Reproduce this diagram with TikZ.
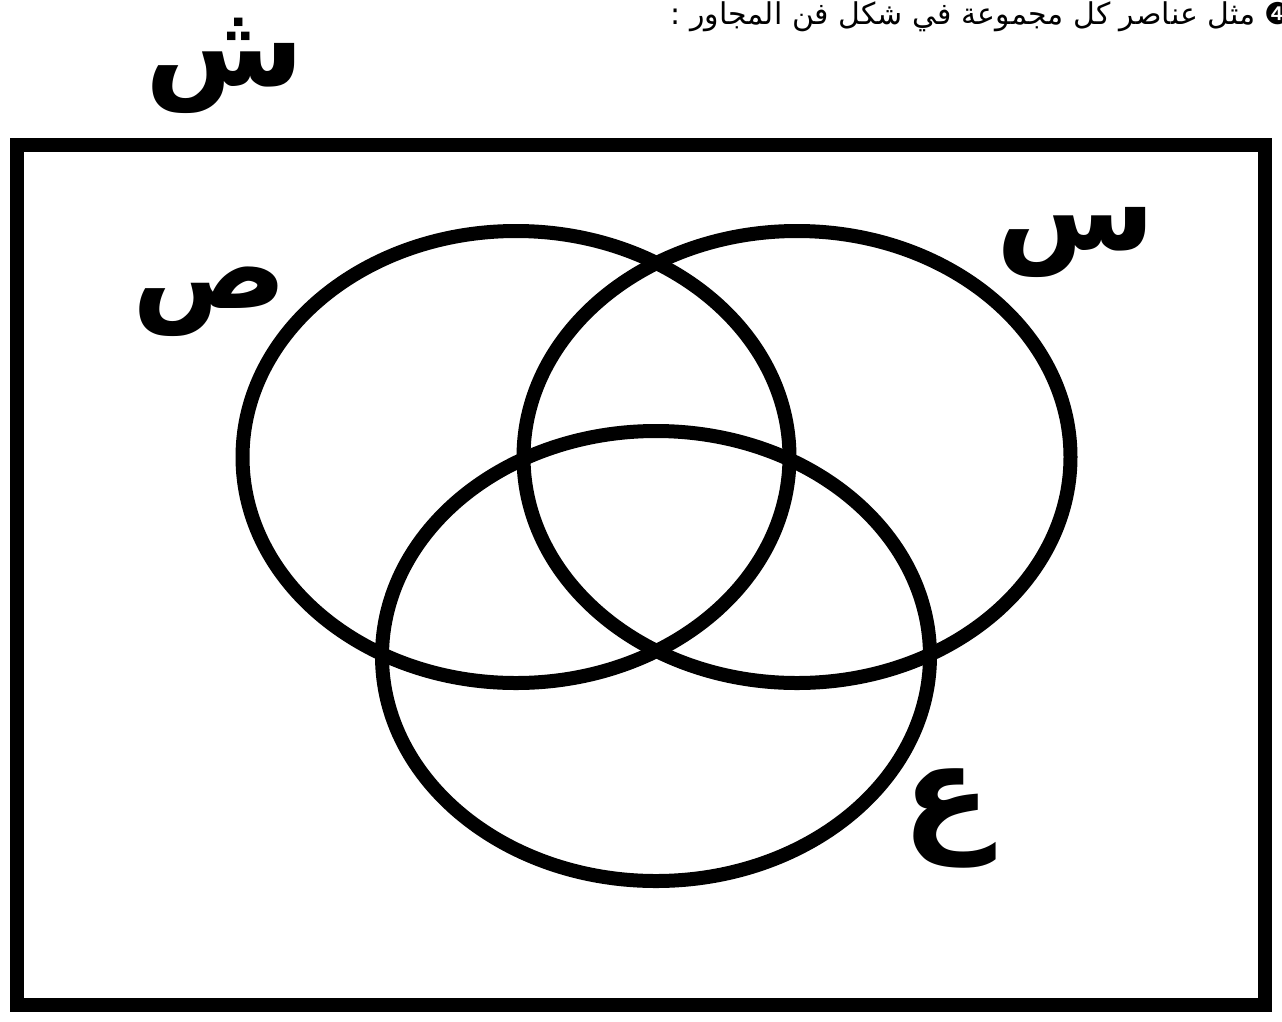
\documentclass[tikz,border=0pt]{standalone}
\usepackage{fontspec}
\newfontfamily\arabicfont[Script=Arabic]{DejaVu Sans}
\TeXXeTstate=1
\begin{document}
\begin{tikzpicture}[x=1pt,y=-1pt,
  setline/.style={line width=14pt},
  setlabel/.style={font=\arabicfont\bfseries\fontsize{115}{125}\selectfont, inner sep=0pt}]
\useasboundingbox (0,0) rectangle (1282,1021);
\fill[white] (0,0) rectangle (1282,1021);
\node[anchor=base east, inner sep=0pt, font=\arabicfont\fontsize{30}{36}\selectfont] (title) at (1292,24) {\beginR ❹ مثل عناصر كل مجموعة في شكل فن المجاور :\endR};
\draw[setline] (17,145) rectangle (1265,1005);
\draw[setline] (516,457) ellipse [x radius=273.5, y radius=226];
\draw[setline] (797,457) ellipse [x radius=273.5, y radius=226];
\draw[setline] (656,656) ellipse [x radius=274, y radius=225];
\node[setlabel] (sh) at (225,66) {\beginR ش\endR};
\node[setlabel] (sad) at (210,302) {\beginR ص\endR};
\node[setlabel] (sin) at (1076,242) {\beginR س\endR};
\node[setlabel, font=\arabicfont\bfseries\fontsize{130}{140}\selectfont] (ain) at (947,818) {\beginR ع\endR};
\end{tikzpicture}
\end{document}
